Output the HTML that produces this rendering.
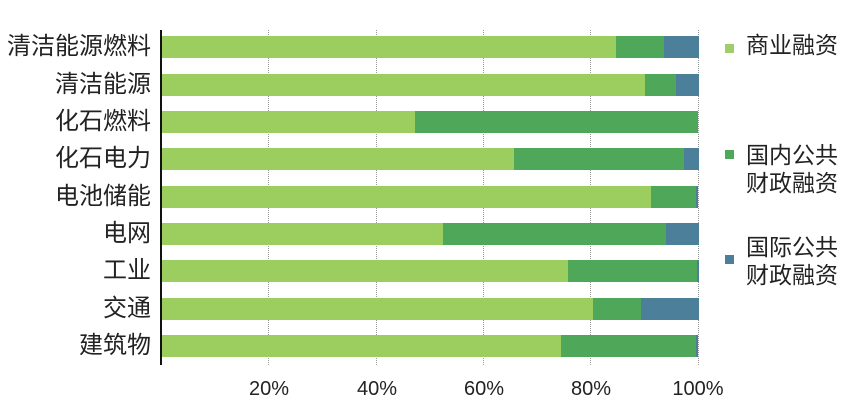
<!DOCTYPE html>
<html><head><meta charset="utf-8"><style>
body{margin:0;width:864px;height:420px;background:#fff;position:relative;overflow:hidden;font-family:"Liberation Sans","Noto Sans CJK SC",sans-serif;color:#222}
.l{position:absolute;right:713px;font-size:24px;line-height:26px;white-space:nowrap}
.b{position:absolute;height:22px}
.g{position:absolute;top:30px;height:335px;width:0;border-left:1px dotted #999}
.t{position:absolute;top:378px;font-size:20px;width:70px;text-align:center;margin-left:-35px}
.lg{position:absolute;font-size:23px;line-height:28px}
.sq{position:absolute;width:9px;height:9px}
</style></head><body>
<div class="g" style="left:268px"></div>
<div class="g" style="left:376px"></div>
<div class="g" style="left:483px"></div>
<div class="g" style="left:590px"></div>
<div class="g" style="left:698px"></div>
<div id="bars"></div>
<div style="position:absolute;left:160px;top:30px;width:2px;height:335px;background:#111"></div>
<div class="l" style="top:34px">清洁能源燃料</div>
<div class="l" style="top:72px">清洁能源</div>
<div class="l" style="top:109px">化石燃料</div>
<div class="l" style="top:146px">化石电力</div>
<div class="l" style="top:184px">电池储能</div>
<div class="l" style="top:221px">电网</div>
<div class="l" style="top:258px">工业</div>
<div class="l" style="top:296px">交通</div>
<div class="l" style="top:333px">建筑物</div>
<div class="t" style="left:269px">20%</div>
<div class="t" style="left:377px">40%</div>
<div class="t" style="left:484px">60%</div>
<div class="t" style="left:591px">80%</div>
<div class="t" style="left:698px">100%</div>
<div class="sq" style="left:725px;top:44px;background:#9fcd68"></div>
<div class="lg" style="left:746px;top:31px">商业融资</div>
<div class="sq" style="left:725px;top:150px;background:#4fa85a"></div>
<div class="lg" style="left:746px;top:141px">国内公共<br>财政融资</div>
<div class="sq" style="left:725px;top:255px;background:#4c7f99"></div>
<div class="lg" style="left:746px;top:233px">国际公共<br>财政融资</div>
<script>
var d=[[616,664,699],[645,676,699],[415,698,698],[514,684,699],[651,696,698],[443,666,699],[568,697,699],[593,641,699],[561,696,698]];
var y=[36,74,111,148,186,223,260,298,335],h='';
var c=['#9ccd5f','#4fa85a','#4c7f99'];
d.forEach(function(r,i){var s=162;r.forEach(function(e,j){if(e>s)h+='<div class="b" style="left:'+s+'px;top:'+y[i]+'px;width:'+(e-s)+'px;background:'+c[j]+'"></div>';s=e;});});
document.getElementById('bars').innerHTML=h;
</script>
</body></html>
